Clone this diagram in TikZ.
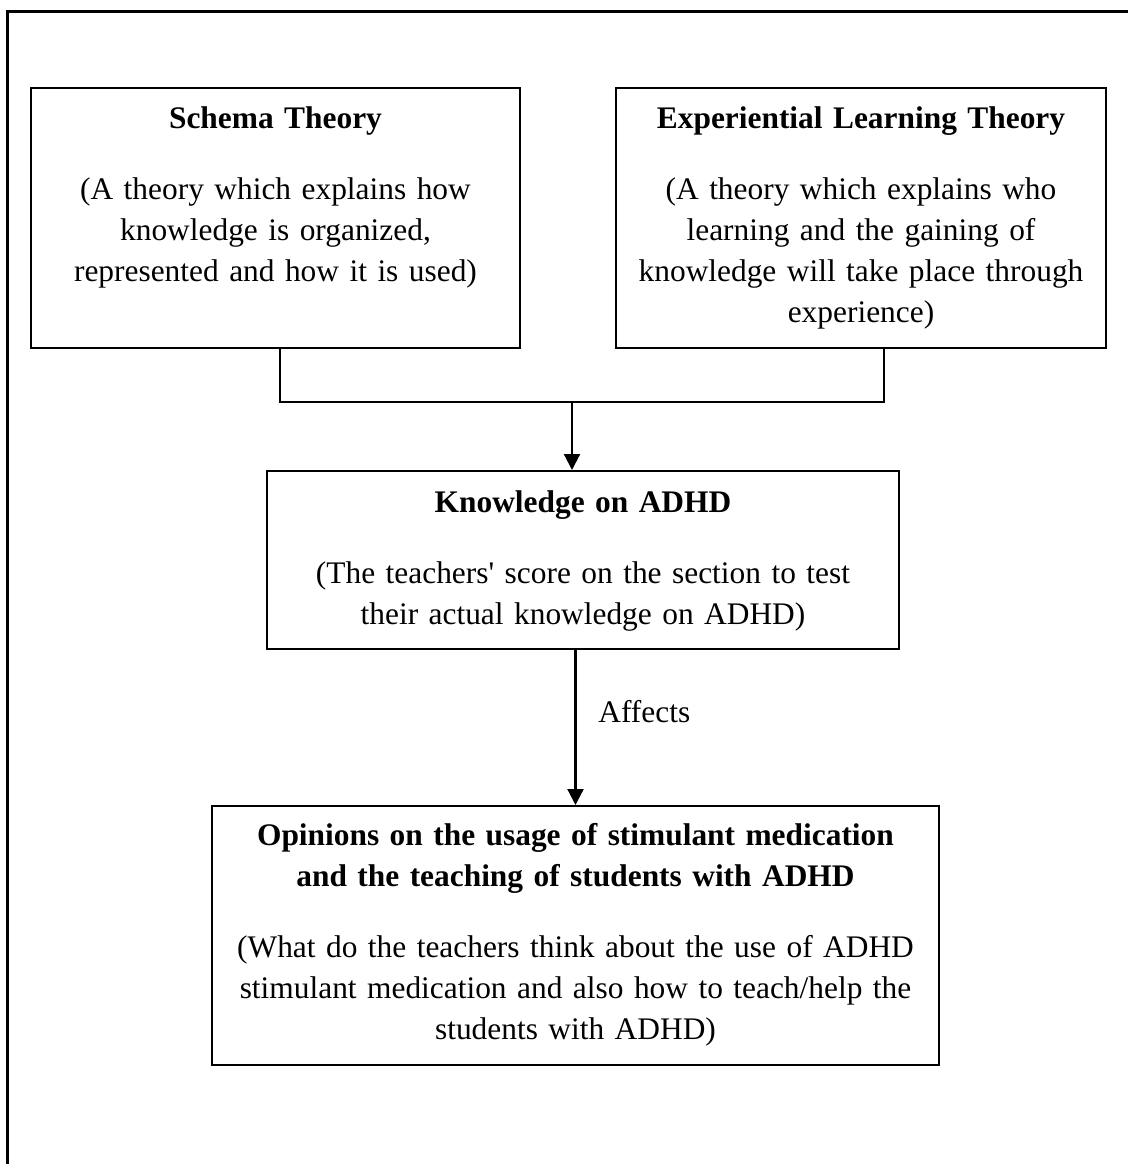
\documentclass[tikz,border=0pt]{standalone}
\usepackage{fontspec}
\setmainfont{Liberation Serif}[Ligatures=TeXOff]
\usetikzlibrary{arrows.meta}
\begin{document}
\begin{tikzpicture}[x=0.5pt,y=-0.5pt,
  box/.style={draw=black,line width=1pt,minimum width=#1,inner sep=0pt},
  txt/.style={anchor=base,align=center,text width=380pt,inner sep=0pt,font=\fontsize{15.7pt}{20.5pt}\selectfont},
  conn/.style={draw=black,line width=1pt},
  arr/.style={draw=black,line width=1.1pt,-{Triangle[width=8pt,length=8pt]}},
  frame/.style={draw=black,line width=1.5pt}]
\useasboundingbox (0,0) rectangle (1128,1164);
% outer frame (top and left only visible)
\coordinate (ftr) at (1130,11);
\coordinate (ftl) at (7.5,11);
\coordinate (fbl) at (7.5,1166);
\draw[frame] (ftr) -- (ftl) -- (fbl);
% boxes
\node[box=244.5pt,minimum height=130pt] (schema) at (275.5,218) {};
\node[box=245pt,minimum height=130pt] (exp) at (861,218) {};
\node[box=316pt,minimum height=89pt] (know) at (583,560) {};
\node[box=363.5pt,minimum height=129.5pt] (opin) at (575.5,935.5) {};
% texts
\node[txt] (schemat) at (275.5,128) {\textbf{Schema Theory}\\[15pt]
(A theory which explains how\\ knowledge is organized,\\ represented and how it is used)};
\node[txt] (expt) at (861,128) {\textbf{Experiential Learning Theory}\\[15pt]
(A theory which explains who\\ learning and the gaining of\\ knowledge will take place through\\ experience)};
\node[txt] (knowt) at (583,512) {\textbf{Knowledge on ADHD}\\[15pt]
(The teachers' score on the section to test\\ their actual knowledge on ADHD)};
\node[txt] (opint) at (575.5,845) {\textbf{Opinions on the usage of stimulant medication}\\
\textbf{and the teaching of students with ADHD}\\[15pt]
(What do the teachers think about the use of ADHD\\ stimulant medication and also how to teach/help the\\ students with ADHD)};
% connectors
\coordinate (jl) at (280,402);
\coordinate (jr) at (884,402);
\coordinate (jm) at (572,402);
\draw[conn] (schema.south -| jl) -- (jl) -- (jr) -- (exp.south -| jr);
\draw[arr] (jm) -- (know.north -| jm);
\draw[arr] (know.south -| opin.north) -- (opin.north);
\node[anchor=base west,inner sep=0pt,font=\fontsize{15.7pt}{20.5pt}\selectfont] (aff) at (598,722) {Affects};
\end{tikzpicture}
\end{document}
